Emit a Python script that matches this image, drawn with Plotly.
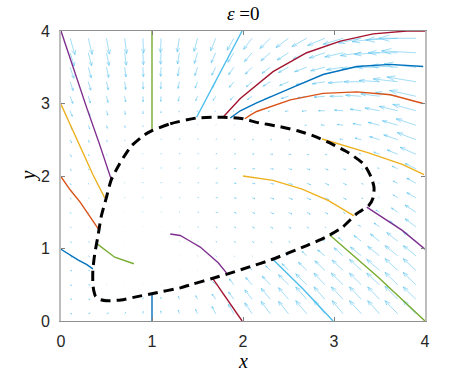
import plotly.graph_objects as go
import plotly.figure_factory as ff

# %% quiver grid (arrow tails) and arrow vectors, rows from y=0.1 up to y=3.9
X_GRID = [0.1, 0.3, 0.5, 0.7, 0.9, 1.1, 1.3, 1.5, 1.7, 1.9, 2.1, 2.3, 2.5, 2.7, 2.9, 3.1, 3.3, 3.5, 3.7, 3.9]
Y_GRID = [0.1, 0.3, 0.5, 0.7, 0.9, 1.1, 1.3, 1.5, 1.7, 1.9, 2.1, 2.3, 2.5, 2.7, 2.9, 3.1, 3.3, 3.5, 3.7, 3.9]

U_ROWS = [
    [0.02, 0.02, 0.02, 0.01, 0.004, -0.004, -0.01, -0.02, -0.04, -0.06, -0.08, -0.10, -0.11, -0.12, -0.12, -0.12, -0.13, -0.13, -0.14, -0.14],
    [0.02, 0.02, 0.01, 0.01, 0.003, -0.003, -0.01, -0.02, -0.04, -0.06, -0.08, -0.10, -0.11, -0.12, -0.12, -0.13, -0.13, -0.13, -0.14, -0.14],
    [0.02, 0.02, -0.005, -0.003, -0.001, 0.001, 0.001, -0.01, -0.03, -0.05, -0.07, -0.09, -0.11, -0.12, -0.12, -0.13, -0.13, -0.14, -0.14, -0.14],
    [0.02, 0.015, -0.002, -0.002, -0.001, 0.001, 0.002, 0.003, 0.002, 0.001, -0.02, -0.05, -0.07, -0.09, -0.11, -0.12, -0.13, -0.14, -0.14, -0.14],
    [0.02, 0.013, -0.002, -0.002, -0.001, 0.001, 0.003, 0.006, 0.007, 0.007, 0.006, 0.001, -0.03, -0.05, -0.08, -0.10, -0.12, -0.13, -0.14, -0.14],
    [0.016, 0.012, -0.001, -0.002, -0.001, 0.001, 0.005, 0.009, 0.013, 0.017, 0.02, 0.02, 0.017, 0.007, -0.02, -0.05, -0.08, -0.10, -0.12, -0.14],
    [0.011, 0.004, -0.001, -0.002, -0.001, 0.002, 0.006, 0.011, 0.016, 0.021, 0.025, 0.027, 0.027, 0.022, 0.011, -0.004, -0.03, -0.06, -0.09, -0.12],
    [0.011, 0.004, -0.001, -0.002, -0.001, 0.002, 0.007, 0.013, 0.019, 0.025, 0.031, 0.035, 0.038, 0.037, 0.032, 0.021, -0.005, -0.04, -0.07, -0.12],
    [0.011, 0.004, 0.0, -0.002, -0.001, 0.002, 0.007, 0.013, 0.02, 0.026, 0.032, 0.038, 0.042, 0.044, 0.042, 0.034, 0.018, -0.01, -0.05, -0.10],
    [0.011, 0.006, 0.001, -0.002, -0.001, 0.002, 0.007, 0.013, 0.019, 0.025, 0.031, 0.036, 0.041, 0.043, 0.042, 0.036, 0.021, -0.008, -0.05, -0.10],
    [0.012, 0.007, 0.003, -0.001, -0.001, 0.002, 0.006, 0.011, 0.017, 0.023, 0.028, 0.033, 0.036, 0.037, 0.036, 0.029, 0.016, -0.02, -0.06, -0.12],
    [0.014, 0.008, 0.004, 0.001, -0.001, 0.001, 0.005, 0.009, 0.013, 0.018, 0.022, 0.025, 0.026, 0.024, 0.019, 0.006, -0.023, -0.063, -0.116, -0.174],
    [0.016, 0.011, 0.007, 0.002, 0.0, 0.001, 0.004, 0.007, 0.011, 0.014, 0.015, 0.016, 0.014, 0.007, -0.011, -0.036, -0.069, -0.108, -0.154, -0.206],
    [0.02, 0.015, 0.01, 0.005, 0.001, 0.0, 0.001, 0.003, 0.005, 0.006, 0.007, 0.005, -0.005, -0.02, -0.04, -0.063, -0.092, -0.125, -0.167, -0.218],
    [0.024, 0.018, 0.013, 0.007, 0.002, -0.002, -0.004, -0.005, -0.007, -0.01, -0.015, -0.023, -0.035, -0.051, -0.07, -0.095, -0.124, -0.16, -0.203, -0.255],
    [0.03, 0.023, 0.017, 0.01, 0.003, -0.004, -0.011, -0.02, -0.029, -0.039, -0.051, -0.064, -0.08, -0.099, -0.12, -0.145, -0.173, -0.205, -0.243, -0.29],
    [0.034, 0.027, 0.02, 0.012, 0.004, -0.004, -0.014, -0.025, -0.036, -0.05, -0.064, -0.079, -0.098, -0.117, -0.139, -0.164, -0.191, -0.225, -0.27, -0.319],
    [0.041, 0.032, 0.024, 0.014, 0.005, -0.005, -0.017, -0.029, -0.043, -0.058, -0.074, -0.091, -0.111, -0.133, -0.156, -0.183, -0.212, -0.25, -0.297, -0.348],
    [0.046, 0.037, 0.028, 0.017, 0.006, -0.006, -0.019, -0.034, -0.049, -0.066, -0.084, -0.103, -0.125, -0.148, -0.173, -0.202, -0.23, -0.275, -0.324, -0.377],
    [0.054, 0.043, 0.032, 0.02, 0.007, -0.007, -0.022, -0.038, -0.055, -0.074, -0.094, -0.114, -0.138, -0.163, -0.19, -0.22, -0.253, -0.30, -0.351, -0.406],
]
V_ROWS = [
    [0.0, 0.01, 0.01, 0.02, 0.03, 0.04, 0.05, 0.06, 0.10, 0.13, 0.15, 0.17, 0.17, 0.18, 0.18, 0.18, 0.18, 0.18, 0.18, 0.18],
    [0.0, 0.0, 0.004, 0.01, 0.02, 0.03, 0.04, 0.05, 0.07, 0.10, 0.13, 0.15, 0.16, 0.17, 0.17, 0.17, 0.17, 0.17, 0.18, 0.17],
    [-0.01, -0.003, 0.0, -0.002, -0.004, -0.005, -0.003, 0.02, 0.04, 0.08, 0.10, 0.12, 0.14, 0.15, 0.16, 0.16, 0.16, 0.16, 0.17, 0.17],
    [-0.01, -0.008, 0.001, 0.0, -0.002, -0.003, -0.005, -0.005, -0.003, -0.001, 0.03, 0.06, 0.09, 0.11, 0.13, 0.14, 0.15, 0.15, 0.16, 0.16],
    [-0.02, -0.011, 0.001, 0.001, 0.0, -0.002, -0.004, -0.007, -0.008, -0.008, -0.006, -0.001, 0.03, 0.06, 0.08, 0.11, 0.12, 0.13, 0.14, 0.14],
    [-0.018, -0.014, 0.001, 0.002, 0.002, 0.0, -0.003, -0.007, -0.011, -0.015, -0.018, -0.018, -0.015, -0.006, 0.02, 0.05, 0.08, 0.10, 0.12, 0.13],
    [-0.014, -0.005, 0.002, 0.004, 0.005, 0.003, 0.0, -0.004, -0.009, -0.014, -0.018, -0.021, -0.022, -0.018, -0.01, 0.004, 0.02, 0.05, 0.08, 0.11],
    [-0.017, -0.006, 0.002, 0.006, 0.008, 0.007, 0.004, 0.0, -0.005, -0.011, -0.017, -0.022, -0.025, -0.026, -0.024, -0.016, 0.004, 0.03, 0.06, 0.10],
    [-0.019, -0.008, 0.001, 0.008, 0.011, 0.011, 0.009, 0.005, 0.0, -0.006, -0.012, -0.017, -0.022, -0.026, -0.026, -0.022, -0.013, 0.007, 0.04, 0.07],
    [-0.022, -0.013, -0.003, 0.007, 0.013, 0.014, 0.013, 0.01, 0.005, 0.0, -0.006, -0.011, -0.016, -0.02, -0.022, -0.02, -0.013, 0.005, 0.03, 0.07],
    [-0.026, -0.018, -0.008, 0.004, 0.012, 0.015, 0.015, 0.013, 0.01, 0.005, 0.0, -0.005, -0.01, -0.013, -0.015, -0.014, -0.008, 0.011, 0.035, 0.072],
    [-0.033, -0.024, -0.014, -0.003, 0.008, 0.014, 0.016, 0.014, 0.011, 0.008, 0.004, 0.0, -0.003, -0.006, -0.006, -0.002, 0.01, 0.03, 0.06, 0.096],
    [-0.043, -0.035, -0.026, -0.014, 0.003, 0.011, 0.014, 0.014, 0.012, 0.009, 0.006, 0.002, 0.0, -0.001, 0.002, 0.01, 0.024, 0.043, 0.068, 0.099],
    [-0.057, -0.05, -0.042, -0.03, -0.018, -0.006, 0.004, 0.007, 0.007, 0.006, 0.004, 0.002, -0.001, 0.0, 0.004, 0.012, 0.024, 0.04, 0.062, 0.09],
    [-0.076, -0.068, -0.06, -0.051, -0.04, -0.029, -0.019, -0.014, -0.012, -0.011, -0.011, -0.011, -0.009, -0.006, 0.0, 0.009, 0.022, 0.038, 0.06, 0.088],
    [-0.099, -0.092, -0.086, -0.079, -0.075, -0.07, -0.067, -0.062, -0.057, -0.052, -0.046, -0.039, -0.032, -0.023, -0.013, 0.0, 0.015, 0.033, 0.054, 0.08],
    [-0.122, -0.117, -0.112, -0.107, -0.101, -0.097, -0.092, -0.088, -0.083, -0.077, -0.07, -0.061, -0.052, -0.041, -0.029, -0.016, 0.0, 0.018, 0.04, 0.066],
    [-0.153, -0.147, -0.141, -0.134, -0.13, -0.125, -0.121, -0.116, -0.11, -0.102, -0.094, -0.084, -0.074, -0.062, -0.049, -0.035, -0.018, 0.0, 0.022, 0.048],
    [-0.184, -0.18, -0.176, -0.171, -0.165, -0.159, -0.154, -0.147, -0.14, -0.131, -0.122, -0.111, -0.10, -0.087, -0.073, -0.058, -0.04, -0.022, 0.0, 0.026],
    [-0.228, -0.223, -0.218, -0.211, -0.204, -0.196, -0.19, -0.182, -0.174, -0.164, -0.153, -0.141, -0.129, -0.115, -0.10, -0.084, -0.066, -0.048, -0.026, 0.0],
]

# %% dashed closed curve
CURVE_X = [0.99, 1.20, 1.49, 1.78, 2.00, 2.15, 2.41, 2.61, 2.76, 2.98, 3.16, 3.33, 3.41, 3.44, 3.43, 3.38, 3.25, 3.09, 2.90, 2.70,
           2.30, 2.08, 1.86, 1.67, 1.45, 1.32, 1.01, 0.85, 0.66, 0.50, 0.42, 0.38, 0.36, 0.35, 0.35, 0.37, 0.41, 0.44, 0.50, 0.55,
           0.64, 0.77, 0.92, 0.99]
CURVE_Y = [2.62, 2.72, 2.80, 2.81, 2.79, 2.74, 2.68, 2.62, 2.56, 2.44, 2.32, 2.16, 1.98, 1.84, 1.70, 1.59, 1.48, 1.29, 1.15, 1.04,
           0.84, 0.75, 0.66, 0.59, 0.51, 0.46, 0.38, 0.34, 0.29, 0.28, 0.30, 0.34, 0.42, 0.51, 0.70, 0.92, 1.20, 1.43, 1.71, 1.94,
           2.16, 2.41, 2.57, 2.62]

# %% trajectories (x list, y list, colour)
trajectories = [
    ([0.0, 0.10, 0.19, 0.28, 0.35], [0.99, 0.91, 0.84, 0.78, 0.72], "#0072BD"),
    ([0.0, 0.10, 0.21, 0.31, 0.41], [1.99, 1.81, 1.64, 1.45, 1.27], "#D95319"),
    ([0.0, 0.12, 0.24, 0.35, 0.48], [2.99, 2.65, 2.32, 2.02, 1.70], "#EDB120"),
    ([0.0, 0.14, 0.28, 0.42, 0.55], [4.0, 3.47, 2.95, 2.45, 1.96], "#7E2F8E"),
    ([1.0, 1.0], [4.0, 2.62], "#77AC30"),
    ([1.99, 1.74, 1.49], [4.0, 3.40, 2.81], "#4DBEEE"),
    ([4.0, 3.80, 3.43, 3.07, 2.70, 2.33, 1.97, 1.78], [4.0, 4.0, 3.96, 3.86, 3.70, 3.44, 3.07, 2.81], "#A2142F"),
    ([3.98, 3.62, 3.25, 2.88, 2.52, 2.15, 1.97, 1.86], [3.51, 3.54, 3.51, 3.40, 3.21, 3.01, 2.90, 2.80], "#0072BD"),
    ([3.98, 3.62, 3.25, 2.88, 2.52, 2.15, 2.08, 2.02], [3.0, 3.12, 3.16, 3.14, 3.05, 2.89, 2.84, 2.79], "#D95319"),
    ([3.99, 3.75, 3.38, 2.87], [2.02, 2.16, 2.32, 2.51], "#EDB120"),
    ([4.0, 3.75, 3.36], [0.99, 1.25, 1.57], "#7E2F8E"),
    ([4.0, 3.48, 2.95], [0.0, 0.61, 1.19], "#77AC30"),
    ([2.99, 2.66, 2.33], [0.0, 0.44, 0.85], "#4DBEEE"),
    ([1.99, 1.82, 1.67], [0.0, 0.30, 0.58], "#A2142F"),
    ([1.0, 1.0], [0.0, 0.38], "#0072BD"),
    ([0.39, 0.59, 0.80], [1.07, 0.88, 0.79], "#77AC30"),
    ([1.20, 1.31, 1.42, 1.53, 1.64, 1.73, 1.82], [1.20, 1.18, 1.10, 1.02, 0.90, 0.80, 0.66], "#7E2F8E"),
    ([2.0, 2.33, 2.65, 2.94, 3.22], [2.0, 1.94, 1.82, 1.66, 1.45], "#EDB120"),
]

# %% flatten grid for quiver
qx, qy, qu, qv = [], [], [], []
for j, yy in enumerate(Y_GRID):
    for i, xx in enumerate(X_GRID):
        qx.append(xx)
        qy.append(yy)
        qu.append(U_ROWS[j][i])
        qv.append(V_ROWS[j][i])

quiv = ff.create_quiver(qx, qy, qu, qv, scale=1, arrow_scale=0.3,
                        line=dict(color="rgba(77,190,238,0.75)", width=0.7))

fig = go.Figure()
for tr in quiv.data:
    tr.update(showlegend=False, hoverinfo="skip")
    fig.add_trace(tr)

for tx, ty, col in trajectories:
    fig.add_trace(go.Scatter(x=tx, y=ty, mode="lines", line=dict(color=col, width=1.4),
                             showlegend=False, hoverinfo="skip"))

fig.add_trace(go.Scatter(x=CURVE_X, y=CURVE_Y, mode="lines",
                         line=dict(color="black", width=3, dash="10px,6px", shape="spline", smoothing=0.6),
                         showlegend=False, hoverinfo="skip"))

tickfont = dict(family="Liberation Sans, Arial, sans-serif", size=16, color="#262626")
fig.update_layout(
    width=470, height=376, autosize=False,
    margin=dict(l=61, r=45, t=31, b=55),
    plot_bgcolor="white", paper_bgcolor="white",
    xaxis=dict(range=[0, 4], tickvals=[0, 1, 2, 3, 4], ticks="inside", ticklen=4, tickcolor="#808080",
               showline=True, linecolor="#909090", linewidth=1, mirror="ticks", showgrid=False, zeroline=False,
               tickfont=tickfont, ticklabelstandoff=6),
    yaxis=dict(range=[0, 4], tickvals=[0, 1, 2, 3, 4], ticks="inside", ticklen=4, tickcolor="#808080",
               showline=True, linecolor="#bdbdbd", linewidth=2, mirror="ticks", showgrid=False, zeroline=False,
               tickfont=tickfont, ticklabelstandoff=6),
    annotations=[
        dict(text="<i>ε</i> =0", xref="paper", yref="paper", x=0.5, y=1.062, showarrow=False,
             font=dict(family="Liberation Serif, serif", size=19, color="black"), yanchor="middle"),
        dict(text="<i>x</i>", xref="paper", yref="paper", x=0.5, y=-0.094, showarrow=False,
             font=dict(family="Liberation Serif, serif", size=20, color="black"), yanchor="top"),
        dict(text="<i>y</i>", xref="paper", yref="paper", x=-0.092, y=0.5, showarrow=False, textangle=-90,
             font=dict(family="Liberation Serif, serif", size=20, color="black"), xanchor="center"),
    ],
)

# drop the browser's default 8px body margin so the figure fills the window exactly
fig.write_html("out.html", config={"displayModeBar": False},
               post_script="document.body.style.margin='0';")
